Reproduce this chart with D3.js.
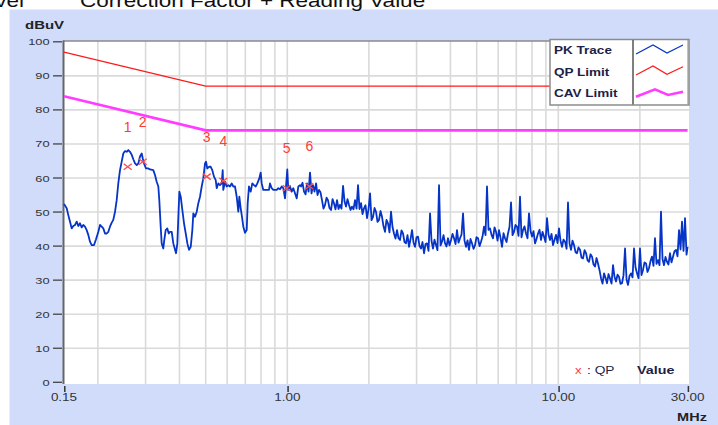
<!DOCTYPE html>
<html><head><meta charset="utf-8">
<script src="https://cdn.jsdelivr.net/npm/d3@7"></script>
<style>html,body{margin:0;padding:0;background:#fff;overflow:hidden}svg{display:block}</style>
</head><body><svg id="c" width="718" height="425"></svg>
<script>
// ---------- data ----------
const yTicks = [0,10,20,30,40,50,60,70,80,90,100];
const xTickValues = [0.15, 1, 10, 30];
const xTickLabels = ["0.15", "1.00", "10.00", "30.00"];
const gridFreqs = [0.2,0.3,0.4,0.5,0.6,0.7,0.8,0.9,1,2,3,4,5,6,7,8,9,10,20];

const qpLimitFreq = [0.15, 0.5, 30];
const qpLimitLevel = [97, 87, 87];
const cavLimitFreq = [0.15, 0.5, 30];
const cavLimitLevel = [84, 74, 74];

// PK trace, read point by point (MHz / dBuV)
const traceFreq = [
0.150,0.1535,0.1556,0.1578,0.1601,0.1623,0.1647,0.1671,0.1694,0.1718,
0.1743,0.1767,0.1793,0.1819,0.1844,0.1871,0.1898,0.1936,0.1969,0.2008,
0.2037,0.2066,0.2095,0.2125,0.2156,0.2186,0.2217,0.2250,0.2280,0.2314,
0.2347,0.2379,0.2414,0.2449,0.2483,0.2519,0.2556,0.2591,0.2628,0.2667,
0.2703,0.2743,0.2783,0.2821,0.2861,0.2903,0.2928,0.2960,0.3011,0.3071,
0.3115,0.3203,0.3250,0.3297,0.3343,0.3371,0.3411,0.3440,0.3487,0.3517,
0.3559,0.3608,0.3652,0.3692,0.3746,0.3797,0.3853,0.3886,0.3929,0.3963,
0.3997,0.4044,0.4100,0.4159,0.4220,0.4278,0.4339,0.4403,0.4463,0.4501,
0.4566,0.4633,0.4696,0.4764,0.4833,0.4899,0.4971,0.5013,0.5069,0.5142,
0.5217,0.5288,0.5365,0.5444,0.5490,0.5565,0.5645,0.5728,0.5777,0.5806,
0.5891,0.5976,0.6059,0.6146,0.6236,0.6321,0.6413,0.6507,0.6596,0.6653,
0.6731,0.6806,0.6882,0.6982,0.7084,0.7143,0.7222,0.7328,0.7428,0.7537,
0.7647,0.7752,0.7885,0.7978,0.8046,0.8156,0.8396,0.8561,0.8634,0.8760,
0.8880,0.9141,0.9267,0.9400,0.9537,0.9667,0.9808,0.9892,1.000,1.0086,
1.0233,1.0383,1.0524,1.0678,1.0834,1.0982,1.1140,
1.124,1.153,1.182,1.213,1.244,1.277,1.309,1.343,1.378,1.413,
1.450,1.487,1.526,1.565,1.606,1.647,1.690,1.733,1.778,1.824,
1.871,1.919,1.969,2.020,2.072,2.125,2.180,2.236,2.294,2.353,
2.414,2.476,2.540,2.606,2.673,2.742,2.813,2.886,2.960,3.037,
3.115,3.195,3.278,3.363,3.449,3.538,3.630,3.723,3.820,3.918,
4.019,4.123,4.229,4.339,4.451,4.566,4.683,4.804,4.928,5.056,
5.186,5.320,5.457,5.598,5.743,5.891,6.043,6.199,6.359,6.523,
6.692,6.864,7.042,7.223,7.410,7.601,7.797,7.999,8.205,8.417,
8.634,8.857,9.086,9.320,9.561,9.808,10.06,10.32,10.59,10.86,
11.14,11.43,11.72,12.03,12.34,12.66,12.98,13.32,13.66,14.01,
14.38,14.75,15.13,15.52,15.92,16.33,16.75,17.18,17.63,18.08,
18.55,19.03,19.52,20.02,20.54,21.07,21.61,22.17,22.74,23.33,
23.93,24.55,25.18,25.83,26.50,27.19,27.89,28.61,29.35,30.0
];
const traceLevel = [
52.4,51.1,49.1,47.2,45.2,45.9,46.2,47.2,45.9,46.7,
45.5,46.2,45.7,44.7,43.3,41.3,40.3,40.3,42.0,44.2,
46.2,45.7,45.2,43.7,43.7,44.2,45.7,46.9,47.7,50.1,
53.5,58.4,62.3,64.8,67.2,67.9,67.7,68.2,67.7,66.8,
65.5,64.3,63.8,64.3,66.3,67.2,65.8,64.3,62.8,62.8,
62.5,62.3,60.9,58.9,57.5,53.5,45.7,40.8,39.3,41.8,
44.7,45.2,43.7,44.2,44.2,40.8,38.9,37.9,40.8,48.6,
56.0,54.5,50.6,46.7,43.7,40.8,38.9,39.8,44.7,49.6,
48.6,50.1,52.6,54.5,57.5,59.9,64.3,64.8,62.8,63.3,
63.3,62.3,60.4,59.4,57.0,58.4,57.9,58.4,62.3,56.5,
58.9,57.5,57.9,57.5,58.4,57.5,57.5,54.5,50.1,54.5,
51.1,48.6,45.7,43.9,44.7,52.6,57.5,56.0,58.4,57.9,
57.5,58.4,59.9,61.6,58.4,56.5,56.5,56.5,58.4,57.0,
56.5,56.5,57.0,56.7,57.5,57.0,54.0,57.5,62.5,56.5,
57.5,56.0,57.0,55.5,54.0,57.5,57.9,
57.5,56.0,58.4,61.6,57.9,58.4,56.5,53.5,52.1,53.5,
50.6,52.6,53.5,52.1,57.7,51.6,52.1,51.6,53.5,57.9,
52.6,51.1,48.2,55.5,48.6,50.1,47.7,48.6,44.2,46.7,
50.1,43.7,44.7,41.8,43.7,40.8,39.8,44.7,39.8,42.8,
39.3,37.9,40.8,49.6,39.3,40.3,57.9,41.3,40.8,42.3,
41.8,42.3,44.7,42.3,49.6,39.8,38.9,40.8,40.3,42.3,
41.3,45.7,57.5,45.2,42.3,44.2,44.7,39.8,42.3,43.7,
52.8,44.2,45.7,54.5,44.7,43.7,49.6,42.8,40.8,43.7,
41.8,42.8,48.2,41.8,40.3,43.3,45.2,39.8,41.3,52.8,
38.9,40.3,37.9,38.9,36.4,37.9,35.4,36.9,34.0,34.9,
30.5,32.0,29.1,30.5,34.4,29.6,31.0,29.1,39.3,28.6,
32.0,39.3,32.0,39.3,33.0,34.9,33.5,36.9,42.3,35.9,
50.1,34.4,35.4,37.9,36.9,38.9,44.7,47.2,48.2,39.8
];
// extra in-between readings of the noise band above 1.1 MHz
const traceFreqMid = [
1.138,1.168,1.198,1.229,1.260,1.293,1.326,1.360,1.396,1.431,
1.469,1.506,1.546,1.585,1.627,1.668,1.712,1.755,1.801,1.847,
1.895,1.944,1.994,2.046,2.099,2.152,2.208,2.265,2.323,2.383,
2.445,2.508,2.573,2.639,2.707,2.777,2.849,2.923,2.998,3.076,
3.155,3.236,3.320,3.406,3.493,3.583,3.677,3.771,3.869,3.968,
4.071,4.176,4.283,4.395,4.508,4.625,4.743,4.866,4.991,5.121,
5.253,5.388,5.527,5.670,5.817,5.967,6.121,6.279,6.441,6.607,
6.778,6.952,7.132,7.316,7.505,7.699,7.897,8.102,8.310,8.525,
8.745,8.971,9.203,9.440,9.684,9.934,10.19,10.45,10.73,11.00,
11.28,11.58,11.87,12.18,12.50,12.82,13.15,13.49,13.84,14.19,
14.56,14.94,15.32,15.72,16.12,16.54,16.96,17.40,17.86,18.31,
18.79,19.27,19.77,20.28,20.80,21.34,21.89,22.45,23.03,23.63,
24.24,24.86,25.50,26.16,26.84,27.54,28.25,28.98,29.73
];
const traceLevelMid = [
58.6,55.2,56.0,55.5,56.0,55.0,55.8,51.0,54.2,51.2,
53.8,50.8,50.9,51.0,53.0,53.8,50.6,50.8,51.0,50.9,
49.4,52.0,50.8,47.6,51.2,47.1,50.3,45.8,47.7,44.0,
45.6,42.2,42.3,44.6,41.2,43.2,42.0,41.0,42.6,40.0,
41.2,40.6,38.6,41.5,41.9,38.8,40.2,43.2,39.9,40.2,
43.6,40.6,41.0,43.4,41.6,41.7,42.1,39.2,42.6,40.0,
42.8,43.2,44.8,43.3,45.5,41.6,42.4,43.8,41.2,45.6,
43.2,46.2,43.0,42.6,45.8,42.3,44.5,44.4,42.1,44.8,
44.2,41.2,43.3,43.6,41.8,40.9,41.6,41.9,39.2,40.8,
41.6,38.2,39.6,36.6,38.8,35.8,37.6,34.6,36.5,33.0,
29.0,30.6,31.8,29.0,31.0,31.6,28.9,31.4,30.2,31.2,
30.8,33.8,30.6,31.5,35.2,32.4,35.6,34.2,34.8,34.4,
36.2,36.8,34.6,35.2,38.5,37.0,39.0,38.6,37.5
];

const markerFreq = [0.2577, 0.2928, 0.5043, 0.5806, 0.995, 1.206];
const markerLevel = [63.3, 64.8, 60.4, 59.1, 57.0, 57.6];
const markerLabels = ["1", "2", "3", "4", "5", "6"];

const legendLabels = ["PK Trace", "QP Limit", "CAV Limit"];
const legendColors = ["#0634c6", "#ff1a1a", "#ff3cff"];

// ---------- drawing ----------
const svg = d3.select('#c');
const x = d3.scaleLog().domain([0.15, 30]).range([64, 687.6]);
const y = d3.scaleLinear().domain([0, 100]).range([382.3, 41.8]);

function txt(px, py, s, o) {
  o = o || {};
  return svg.append('text')
    .attr('transform', `translate(${px},${py}) scale(${o.sx || 1},1)`)
    .attr('text-anchor', o.anchor || 'start')
    .attr('font-family', 'Arial, "Liberation Sans", sans-serif')
    .attr('font-size', o.size || 10)
    .attr('font-weight', o.weight || 'normal')
    .attr('fill', o.fill || '#222')
    .text(s);
}

svg.append('rect').attr('width', 718).attr('height', 425).attr('fill', '#fff');
svg.append('rect').attr('x', 9.5).attr('y', 9.5).attr('width', 709).attr('height', 416).attr('fill', '#d0dcfa');

// title (clipped at the top edge, as in the reference)
txt(24, 7, 'Level', {size: 18, sx: 1.25, anchor: 'end', fill: '#111'});
txt(80, 7, 'Correction Factor + Reading Value', {size: 18, sx: 1.25, fill: '#111'});

// plot area
svg.append('rect').attr('x', 64).attr('y', 41).attr('width', 625).attr('height', 343).attr('fill', '#fff');

// grid
svg.append('g').selectAll('line').data(gridFreqs).join('line')
  .attr('x1', d => x(d)).attr('x2', d => x(d))
  .attr('y1', 41).attr('y2', 384)
  .attr('stroke', '#dadada').attr('stroke-width', 1.6);
svg.append('g').selectAll('line').data(yTicks.filter(v => v > 0 && v < 100)).join('line')
  .attr('x1', 64).attr('x2', 689)
  .attr('y1', d => y(d)).attr('y2', d => y(d))
  .attr('stroke', '#dadada').attr('stroke-width', 1.6);

// borders
svg.append('line').attr('x1', 63).attr('x2', 689).attr('y1', 41).attr('y2', 41)
  .attr('stroke', '#8a8a8a').attr('stroke-width', 1.5);
svg.append('line').attr('x1', 63.5).attr('x2', 63.5).attr('y1', 40.5).attr('y2', 384)
  .attr('stroke', '#666').attr('stroke-width', 2);

// y ticks + labels
yTicks.forEach(v => {
  svg.append('line').attr('x1', 53).attr('x2', 62).attr('y1', y(v)).attr('y2', y(v))
    .attr('stroke', '#444').attr('stroke-width', 1.3);
  txt(49.5, y(v) + 3.5, String(v), {size: 9.5, sx: 1.35, anchor: 'end', fill: '#333'});
});
txt(25, 29, 'dBuV', {size: 11, sx: 1.36, weight: 'bold', fill: '#222'});

// x ticks + labels
xTickValues.forEach((v, i) => {
  svg.append('line').attr('x1', x(v) + 0.8).attr('x2', x(v) + 0.8).attr('y1', 386).attr('y2', 392)
    .attr('stroke', '#333').attr('stroke-width', 1.5);
  txt(x(v), 401, xTickLabels[i], {size: 10, sx: 1.35, anchor: 'middle', fill: '#333'});
});
txt(692, 421, 'MHz', {size: 10, sx: 1.45, weight: 'bold', anchor: 'middle', fill: '#222'});

// lines
const line = d3.line().x(d => x(d[0])).y(d => y(d[1]));
svg.append('path').datum(qpLimitFreq.map((f, i) => [f, qpLimitLevel[i]]))
  .attr('d', line).attr('fill', 'none').attr('stroke', legendColors[1]).attr('stroke-width', 1.3);
svg.append('path').datum(cavLimitFreq.map((f, i) => [f, cavLimitLevel[i]]))
  .attr('d', line).attr('fill', 'none').attr('stroke', legendColors[2]).attr('stroke-width', 2.6);
const tracePts = traceFreq.map((f, i) => [f, traceLevel[i]])
  .concat(traceFreqMid.map((f, i) => [f, traceLevelMid[i]]))
  .sort((a, b) => a[0] - b[0]);
svg.append('path').datum(tracePts)
  .attr('d', line).attr('fill', 'none').attr('stroke', legendColors[0])
  .attr('stroke-width', 1.8).attr('stroke-linejoin', 'round');

// QP markers
markerFreq.forEach((f, i) => {
  const mx = x(f), my = y(markerLevel[i]);
  svg.append('path').attr('d', `M${mx-4},${my-3}L${mx+4},${my+3}M${mx-4},${my+3}L${mx+4},${my-3}`)
    .attr('stroke', '#ff4a4a').attr('stroke-width', 1.3).attr('fill', 'none');
  txt(mx, my - 35, markerLabels[i], {size: 14, anchor: 'middle', fill: '#ff3a3a'});
});

// legend
const lg = svg.append('g');
lg.append('rect').attr('x', 550).attr('y', 39.5).attr('width', 139).attr('height', 65.5)
  .attr('fill', '#fff').attr('stroke', '#8c8c8c').attr('stroke-width', 1.5);
lg.append('line').attr('x1', 633).attr('x2', 633).attr('y1', 40).attr('y2', 104.5)
  .attr('stroke', '#555').attr('stroke-width', 1.5);
lg.append('line').attr('x1', 688).attr('x2', 688).attr('y1', 40).attr('y2', 104.5)
  .attr('stroke', '#999').attr('stroke-width', 1.2);
const samples = [
  [[636,54],[653,45],[667,53],[683,45]],
  [[636,75],[653,66],[667,74.3],[683,66.7]],
  [[636,96.7],[655,89.3],[668,95],[683,91.7]]
];
const sw = [1.2, 1.2, 2.6];
legendLabels.forEach((s, i) => {
  txt(554, 54 + i * 21.5, s, {size: 11, sx: 1.23, weight: 'bold', fill: '#1e1e48'});
  lg.append('path').attr('d', d3.line()(samples[i])).attr('fill', 'none')
    .attr('stroke', legendColors[i]).attr('stroke-width', sw[i]);
});

// QP note
txt(575, 373.5, 'x', {size: 11, sx: 1.2, fill: '#ff3a3a'});
txt(587, 373.5, ': QP', {size: 11, sx: 1.25, fill: '#1e1e48'});
txt(637, 373.5, 'Value', {size: 11, sx: 1.3, weight: 'bold', fill: '#1e1e48'});
</script>
</body></html>
